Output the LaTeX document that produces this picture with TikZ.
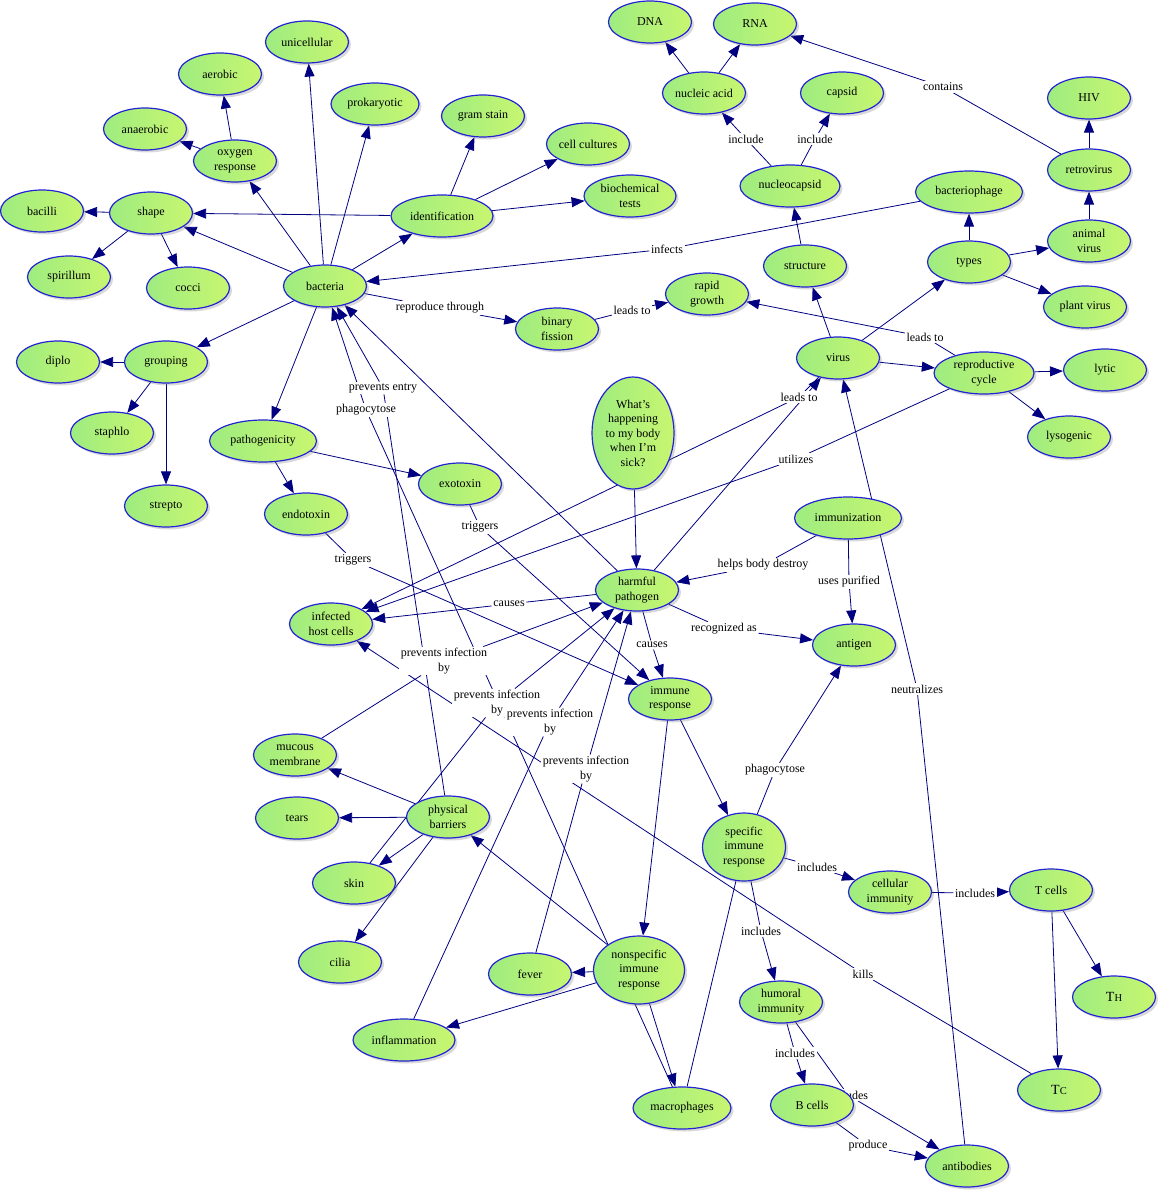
\documentclass[tikz,border=0pt]{standalone}
\usepackage{fontspec}
\setmainfont{Liberation Serif}
\usetikzlibrary{arrows.meta,shapes.geometric,shadows,backgrounds}
\definecolor{linkcolor}{RGB}{0,0,128}
\definecolor{rimcolor}{RGB}{36,36,212}
\definecolor{cmapgreen}{RGB}{158,236,128}
\definecolor{cmapyellow}{RGB}{200,246,112}
\newcommand{\cmapfont}{\fontsize{12}{14.5}\selectfont}
\newcommand{\tsub}[1]{{\fontsize{14}{15}\selectfont T}{\fontsize{10.5}{12}\selectfont #1}}
\tikzset{
  concept/.style={ellipse, draw=rimcolor, line width=1.2pt, left color=cmapgreen, right color=cmapyellow,
    drop shadow={shadow xshift=2.5pt, shadow yshift=-2.5pt, opacity=0.3},
    inner sep=0pt, minimum width=83pt, minimum height=42pt, align=center, font=\cmapfont},
  cwide/.style={minimum width=#1},
  linkwd/.style={fill=white, inner sep=1.5pt, align=center, font=\cmapfont},
  linkln/.style={linkcolor, line width=0.8pt},
  arrln/.style={linkln, -{Triangle[length=13pt,width=10pt]}},
}
% concept -- linking word -> concept
\newcommand{\viaword}[3]{%
  \draw[linkln] (#1) -- (#2);
  \draw[arrln] (#2) -- (#3);
}

\begin{document}
\begin{tikzpicture}[x=1pt,y=-1pt]
    \useasboundingbox (0,0) rectangle (1159,1190);
    % linking words
    \node[linkwd] (wInclA) at (746,139) {include};
    \node[linkwd] (wInclB) at (815,139) {include};
    \node[linkwd] (wContains) at (943,87) {contains};
    \node[linkwd] (wInfects) at (667,249) {infects};
    \node[linkwd] (wReproduce) at (440,308) {reproduce through};
    \node[linkwd] (wLeadsA) at (632,310) {leads to};
    \node[linkwd] (wLeadsB) at (925,337) {leads to};
    \node[linkwd] (wLeadsC) at (799,397) {leads to};
    \node[linkwd] (wUtilizes) at (796,459) {utilizes};
    \node[linkwd] (wEntry) at (383,388) {prevents entry};
    \node[linkwd] (wPhagoA) at (366,410) {phagocytose};
    \node[linkwd] (wTrigA) at (480,527) {triggers};
    \node[linkwd] (wTrigB) at (353,560) {triggers};
    \node[linkwd] (wCausesA) at (509,604) {causes};
    \node[linkwd] (wCausesB) at (652,645) {causes};
    \node[linkwd] (wRecog) at (724,629) {recognized as};
    \node[linkwd] (wHelps) at (763,565) {helps body destroy};
    \node[linkwd] (wPurified) at (849,582) {uses purified};
    \node[linkwd] (wNeutral) at (917,689) {neutralizes};
    \node[linkwd] (wPhagoB) at (775,770) {phagocytose};
    \node[linkwd] (wInclC) at (817,867) {includes};
    \node[linkwd] (wInclD) at (975,893) {includes};
    \node[linkwd] (wInclE) at (761,931) {includes};
    \node[linkwd] (wInclF) at (795,1053) {includes};
    \node[linkwd] (wInclG) at (848,1095) {includes};
    \node[linkwd] (wProduce) at (868,1146) {produce};
    \node[linkwd] (wKills) at (863,974) {kills};
    \node[linkwd] (wPrevA) at (444,661) {prevents infection\\by};
    \node[linkwd] (wPrevB) at (497,703) {prevents infection\\by};
    \node[linkwd] (wPrevC) at (550,722) {prevents infection\\by};
    \node[linkwd] (wPrevD) at (586,769) {prevents infection\\by};

    % bacteria side
    \node[concept] (unicell) at (307,42) {unicellular};
    \node[concept] (aerobic) at (220,74) {aerobic};
    \node[concept] (anaerob) at (145,129) {anaerobic};
    \node[concept] (oxygen) at (235,161) {oxygen\\response};
    \node[concept, cwide=88pt] (prokary) at (375,104) {prokaryotic};
    \node[concept] (bacilli) at (42,211) {bacilli};
    \node[concept] (shape) at (151,213) {shape};
    \node[concept] (spirill) at (69,277) {spirillum};
    \node[concept] (cocci) at (188,288) {cocci};
    \node[concept] (bacteria) at (325,286) {bacteria};
    \node[concept, cwide=102pt] (ident) at (442,216) {identification};
    \node[concept] (gram) at (483,116) {gram stain};
    \node[concept] (cultures) at (588,144) {cell cultures};
    \node[concept, cwide=92pt] (biochem) at (630,196) {biochemical\\tests};
    \node[concept] (diplo) at (58,362) {diplo};
    \node[concept] (grouping) at (166,362) {grouping};
    \node[concept] (staph) at (112,433) {staphlo};
    \node[concept] (strepto) at (166,506) {strepto};
    \node[concept, cwide=107pt] (pathogen) at (263,441) {pathogenicity};
    \node[concept] (endotox) at (306,514) {endotoxin};
    \node[concept] (exotox) at (460,484) {exotoxin};
    \node[concept] (binary) at (557,329) {binary\\fission};
    \node[concept] (rapid) at (707,294) {rapid\\growth};

    % virus side
    \node[concept] (dna) at (650,22) {DNA};
    \node[concept] (rna) at (755,24) {RNA};
    \node[concept] (nucleic) at (704,93) {nucleic acid};
    \node[concept] (capsid) at (842,93) {capsid};
    \node[concept, cwide=100pt] (nucleo) at (790,186) {nucleocapsid};
    \node[concept] (hiv) at (1089,98) {HIV};
    \node[concept] (retro) at (1089,170) {retrovirus};
    \node[concept, cwide=107pt] (phage) at (969,192) {bacteriophage};
    \node[concept] (animal) at (1089,241) {animal\\virus};
    \node[concept] (types) at (969,262) {types};
    \node[concept] (structure) at (805,266) {structure};
    \node[concept] (plant) at (1085,307) {plant virus};
    \node[concept] (virus) at (838,358) {virus};
    \node[concept, cwide=100pt] (repro) at (984,373) {reproductive\\cycle};
    \node[concept] (lytic) at (1105,370) {lytic};
    \node[concept] (lyso) at (1069,437) {lysogenic};

    % body side
    \node[concept, minimum width=82pt, minimum height=112pt] (sick) at (633,433) {What's\\happening\\to my body\\when I'm\\sick?};
    \node[concept] (harmful) at (637,590) {harmful\\pathogen};
    \node[concept, cwide=107pt] (immuniz) at (848,518) {immunization};
    \node[concept] (antigen) at (854,645) {antigen};
    \node[concept] (infected) at (331,624) {infected\\host cells};
    \node[concept] (immune) at (670,699) {immune\\response};
    \node[concept] (mucous) at (295,755) {mucous\\membrane};
    \node[concept] (tears) at (297,818) {tears};
    \node[concept] (physical) at (448,817) {physical\\barriers};
    \node[concept] (skin) at (354,883) {skin};
    \node[concept] (cilia) at (340,962) {cilia};
    \node[concept, minimum height=68pt] (specific) at (744,847) {specific\\immune\\response};
    \node[concept, minimum width=91pt, minimum height=68pt] (nonspec) at (639,970) {nonspecific\\immune\\response};
    \node[concept] (fever) at (530,974) {fever};
    \node[concept, cwide=102pt] (inflam) at (404,1040) {inflammation};
    \node[concept, cwide=98pt] (macro) at (682,1108) {macrophages};
    \node[concept] (cellular) at (890,892) {cellular\\immunity};
    \node[concept] (tcells) at (1051,890) {T cells};
    \node[concept] (th) at (1114,997) {\tsub{H}};
    \node[concept] (tc) at (1059,1090) {\tsub{C}};
    \node[concept] (humoral) at (781,1002) {humoral\\immunity};
    \node[concept] (bcells) at (812,1105) {B cells};
    \node[concept] (antibod) at (967,1166) {antibodies};

    \begin{scope}[on background layer]
    % bacteria links
    \foreach \t in {shape,oxygen,unicell,prokary,ident,grouping,pathogen}
      \draw[arrln] (bacteria) -- (\t);
    \draw[arrln] (ident) -- (shape);
    \foreach \t in {aerobic,anaerob} \draw[arrln] (oxygen) -- (\t);
    \foreach \t in {bacilli,spirill,cocci} \draw[arrln] (shape) -- (\t);
    \foreach \t in {gram,cultures,biochem} \draw[arrln] (ident) -- (\t);
    \foreach \t in {diplo,staph,strepto} \draw[arrln] (grouping) -- (\t);
    \foreach \t in {endotox,exotox} \draw[arrln] (pathogen) -- (\t);
    \viaword{bacteria}{wReproduce}{binary}
    \viaword{binary}{wLeadsA}{rapid}
    \viaword{repro}{wLeadsB}{rapid}
    \viaword{phage}{wInfects}{bacteria}
    % virus links
    \foreach \t in {dna,rna} \draw[arrln] (nucleic) -- (\t);
    \viaword{nucleo}{wInclA}{nucleic}
    \viaword{nucleo}{wInclB}{capsid}
    \draw[arrln] (structure) -- (nucleo);
    \foreach \t in {structure,types,repro} \draw[arrln] (virus) -- (\t);
    \foreach \t in {phage,animal,plant} \draw[arrln] (types) -- (\t);
    \draw[arrln] (animal) -- (retro);
    \draw[arrln] (retro) -- (hiv);
    \viaword{retro}{wContains}{rna}
    \foreach \t in {lytic,lyso} \draw[arrln] (repro) -- (\t);
    \viaword{virus}{wLeadsC}{infected}
    \viaword{repro}{wUtilizes}{infected}
    % pathogen links
    \draw[arrln] (sick) -- (harmful);
    \draw[arrln] (harmful) -- (bacteria);
    \draw[arrln] (harmful) -- (virus);
    \viaword{harmful}{wCausesA}{infected}
    \viaword{harmful}{wCausesB}{immune}
    \viaword{harmful}{wRecog}{antigen}
    \viaword{immuniz}{wHelps}{harmful}
    \viaword{immuniz}{wPurified}{antigen}
    \viaword{exotox}{wTrigA}{immune}
    \viaword{endotox}{wTrigB}{immune}
    \viaword{physical}{wEntry}{bacteria}
    \viaword{macro}{wPhagoA}{bacteria}
    \viaword{mucous}{wPrevA}{harmful}
    \viaword{skin}{wPrevB}{harmful}
    \viaword{inflam}{wPrevC}{harmful}
    \viaword{fever}{wPrevD}{harmful}
    % immune links
    \foreach \t in {mucous,tears,skin,cilia} \draw[arrln] (physical) -- (\t);
    \foreach \t in {physical,fever,inflam,macro} \draw[arrln] (nonspec) -- (\t);
    \foreach \t in {nonspec,specific} \draw[arrln] (immune) -- (\t);
    \viaword{specific}{wPhagoB}{antigen}
    \viaword{specific}{wInclC}{cellular}
    \viaword{cellular}{wInclD}{tcells}
    \viaword{specific}{wInclE}{humoral}
    \draw[linkln] (specific) -- (macro);
    \viaword{humoral}{wInclF}{bcells}
    \viaword{humoral}{wInclG}{antibod}
    \viaword{bcells}{wProduce}{antibod}
    \foreach \t in {tc,th} \draw[arrln] (tcells) -- (\t);
    \viaword{tc}{wKills}{infected}
    \viaword{antibod}{wNeutral}{virus}
    \end{scope}
\end{tikzpicture}
\end{document}
